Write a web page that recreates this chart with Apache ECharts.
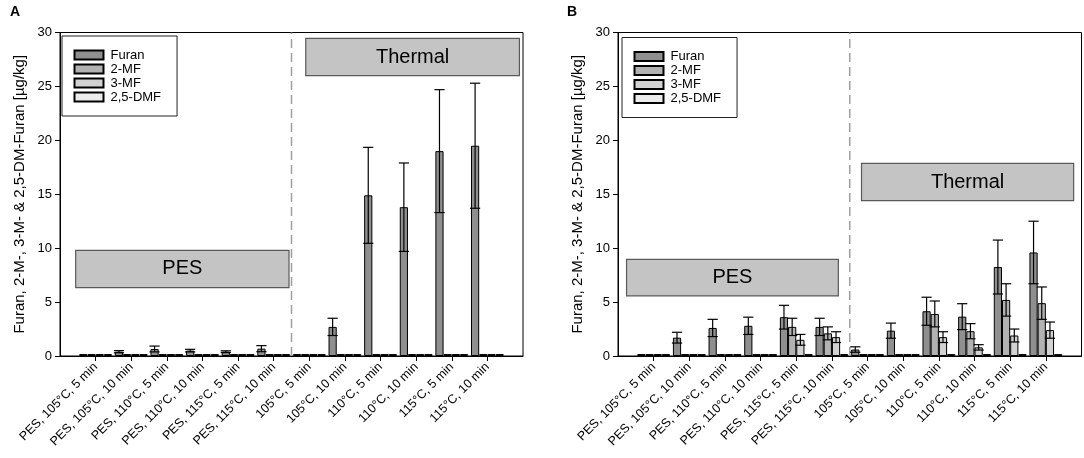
<!DOCTYPE html>
<html>

<head>
  <meta charset="utf-8" />
  <title>Furan</title>
  <script src="https://cdn.jsdelivr.net/npm/echarts@6/dist/echarts.min.js"></script>
  <style>
    html, body {
      margin: 0;
      padding: 0;
      background: #fff;
    }

    #main {
      width: 1084px;
      height: 458px;
    }
  </style>
</head>

<body>
  <div id="main"></div>

  <script>
    // categories (same in both panels)
    var categories = ['PES, 105°C, 5 min', 'PES, 105°C, 10 min', 'PES, 110°C, 5 min', 'PES, 110°C, 10 min',
      'PES, 115°C, 5 min', 'PES, 115°C, 10 min', '105°C, 5 min', '105°C, 10 min', '110°C, 5 min',
      '110°C, 10 min', '115°C, 5 min', '115°C, 10 min'];
    var compounds = ['Furan', '2-MF', '3-MF', '2,5-DMF'];
    var yTicks = [0, 5, 10, 15, 20, 25, 30];

    // panel A values and errors
    var furanA = [0.18, 0.4, 0.65, 0.5, 0.4, 0.68, 0.18, 2.7, 14.9, 13.8, 19.0, 19.5];
    var furanAErr = [0, 0.1, 0.27, 0.12, 0.08, 0.28, 0, 0.8, 4.45, 4.1, 5.7, 5.8];
    var mf2A = [0.18, 0.18, 0.18, 0.18, 0.18, 0.18, 0.18, 0.18, 0.18, 0.18, 0.18, 0.18];
    var mf2AErr = [0, 0, 0, 0, 0, 0, 0, 0, 0, 0, 0, 0];
    var mf3A = [0.18, 0.18, 0.18, 0.18, 0.18, 0.18, 0.18, 0.18, 0.18, 0.18, 0.18, 0.18];
    var mf3AErr = [0, 0, 0, 0, 0, 0, 0, 0, 0, 0, 0, 0];
    var dmfA = [0.18, 0.18, 0.18, 0.18, 0.18, 0.18, 0.18, 0.18, 0.18, 0.18, 0.18, 0.18];
    var dmfAErr = [0, 0, 0, 0, 0, 0, 0, 0, 0, 0, 0, 0];

    // panel B values and errors
    var furanB = [0.18, 1.7, 2.6, 2.8, 3.6, 2.7, 0.6, 2.35, 4.15, 3.65, 8.25, 9.6];
    var furanBErr = [0, 0.5, 0.8, 0.8, 1.1, 0.8, 0.25, 0.7, 1.3, 1.2, 2.5, 2.9];
    var mf2B = [0.18, 0.18, 0.18, 0.18, 2.7, 2.1, 0.18, 0.18, 3.9, 2.3, 5.2, 4.9];
    var mf2BErr = [0, 0, 0, 0, 0.8, 0.6, 0, 0, 1.2, 0.7, 1.5, 1.5];
    var mf3B = [0.18, 0.18, 0.18, 0.18, 1.5, 1.75, 0.18, 0.18, 1.75, 0.8, 1.9, 2.4];
    var mf3BErr = [0, 0, 0, 0, 0.5, 0.5, 0, 0, 0.5, 0.25, 0.6, 0.75];
    var dmfB = [0.18, 0.18, 0.18, 0.18, 0.18, 0.18, 0.18, 0.18, 0.18, 0.18, 0.18, 0.18];
    var dmfBErr = [0, 0, 0, 0, 0, 0, 0, 0, 0, 0, 0, 0];

    // annotation boxes (x in padded category units, y in data units)
    var boxesA = [
      { text: 'PES', x0: 0.44, x1: 6.43, y0: 6.35, y1: 9.8 },
      { text: 'Thermal', x0: 6.9, x1: 12.9, y0: 26.0, y1: 29.45 }
    ];
    var boxesB = [
      { text: 'PES', x0: 0.24, x1: 6.18, y0: 5.57, y1: 8.96 },
      { text: 'Thermal', x0: 6.83, x1: 12.78, y0: 14.4, y1: 17.87 }
    ];
    var divider = 6.5;

    var colors = ['#8f8f8f', '#b2b2b2', '#d2d2d2', '#ececec'];
    var FONT = 'Liberation Sans, Arial, sans-serif';
    var NAME = 'Furan, 2-M-, 3-M- & 2,5-DM-Furan [µg/kg]';

    // one blank slot on each side of the axis
    function pad(arr) {
      return ['-'].concat(arr, ['-']);
    }
    var cats = pad(categories).map(function (c) { return c === '-' ? '' : c; });

    var panels = [
      { vals: [furanA, mf2A, mf3A, dmfA], errs: [furanAErr, mf2AErr, mf3AErr, dmfAErr], boxes: boxesA },
      { vals: [furanB, mf2B, mf3B, dmfB], errs: [furanBErr, mf2BErr, mf3BErr, dmfBErr], boxes: boxesB }
    ];

    var myChart = echarts.init(document.getElementById('main'));

    function errRender(params, api) {
      var x = api.value(0), v = api.value(1), e = api.value(2), k = api.value(3);
      var band = api.size([1, 0])[0];
      var bw = band * 0.92 / 4;
      var cx = api.coord([x, v])[0] + (k - 1.5) * bw;
      var top = api.coord([x, v + e])[1];
      var bot = api.coord([x, v - e])[1];
      var h = bw / 2 + 1;
      var st = { stroke: '#000', lineWidth: 1.2 };
      return {
        type: 'group',
        children: [
          { type: 'line', shape: { x1: cx, y1: top, x2: cx, y2: bot }, style: st },
          { type: 'line', shape: { x1: cx - h, y1: top, x2: cx + h, y2: top }, style: st },
          { type: 'line', shape: { x1: cx - h, y1: bot, x2: cx + h, y2: bot }, style: st }
        ]
      };
    }

    var grids = [
      { left: 60, right: 561, top: 32.5, bottom: 102 },
      { left: 618, right: 2.5, top: 32.5, bottom: 102 }
    ];

    var xAxes = [], yAxes = [], series = [], legends = [];
    panels.forEach(function (p, g) {
      grids[g].show = true;
      grids[g].borderColor = '#000';
      grids[g].borderWidth = 1;
      xAxes.push({
        type: 'category',
        gridIndex: g,
        data: cats,
        boundaryGap: false,
        axisLine: { lineStyle: { color: '#000', width: 1 } },
        axisTick: {
          length: 5,
          lineStyle: { color: '#000' },
          interval: function (i) { return i > 0 && i < cats.length - 1; }
        },
        axisLabel: {
          interval: 0,
          rotate: 45,
          margin: 9,
          fontFamily: FONT,
          fontSize: 12.5,
          color: '#000'
        }
      });
      yAxes.push({
        type: 'value',
        gridIndex: g,
        min: yTicks[0],
        max: yTicks[yTicks.length - 1],
        interval: 5,
        name: NAME,
        nameLocation: 'middle',
        nameGap: 33,
        nameTextStyle: { fontFamily: FONT, fontSize: 15, color: '#000' },
        axisLine: { show: true, lineStyle: { color: '#000', width: 1 } },
        axisTick: { show: true, length: 5, lineStyle: { color: '#000' } },
        splitLine: { show: false },
        axisLabel: { margin: 8, fontFamily: FONT, fontSize: 13, color: '#000' }
      });
      var errData = [];
      compounds.forEach(function (name, k) {
        series.push({
          name: name,
          type: 'bar',
          xAxisIndex: g,
          yAxisIndex: g,
          data: pad(p.vals[k]),
          barGap: '0%',
          barCategoryGap: '8%',
          itemStyle: { color: colors[k], borderColor: '#000', borderWidth: 1 },
          emphasis: { disabled: true }
        });
        p.vals[k].forEach(function (v, i) {
          if (p.errs[k][i] > 0) errData.push([i + 1, v, p.errs[k][i], k]);
        });
      });
      series.push({
        type: 'custom',
        xAxisIndex: g,
        yAxisIndex: g,
        renderItem: errRender,
        data: errData,
        z: 5,
        silent: true
      });
      legends.push({
        data: compounds,
        orient: 'vertical',
        icon: 'rect',
        left: g === 0 ? 62 : 622,
        top: g === 0 ? 36 : 37.5,
        padding: [12, 16, 12, 11.5],
        itemWidth: 29,
        itemHeight: 9,
        itemGap: 0,
        borderColor: '#222',
        borderWidth: 1,
        selectedMode: false,
        textStyle: { fontFamily: FONT, fontSize: 13, color: '#000', lineHeight: 14, padding: [0, 0, 0, 2] }
      });
    });

    var option = {
      animation: false,
      title: [
        { text: 'A', left: 10, top: 5, padding: 0, textStyle: { fontFamily: FONT, fontSize: 14, fontWeight: 'bold', color: '#000' } },
        { text: 'B', left: 567, top: 5, padding: 0, textStyle: { fontFamily: FONT, fontSize: 14, fontWeight: 'bold', color: '#000' } }
      ],
      grid: grids,
      legend: legends,
      xAxis: xAxes,
      yAxis: yAxes,
      series: series
    };
    myChart.setOption(option);

    // boxes and dashed dividers, placed from data coordinates
    var graphics = [];
    panels.forEach(function (p, g) {
      var p0 = myChart.convertToPixel({ gridIndex: g }, [0, 0]);
      var p1 = myChart.convertToPixel({ gridIndex: g }, [1, 30]);
      var step = p1[0] - p0[0];
      var yPx = function (v) { return p0[1] + (p1[1] - p0[1]) * v / 30; };
      var xPx = function (c) { return p0[0] + step * c; };
      graphics.push({
        type: 'line',
        shape: { x1: xPx(divider), y1: yPx(0), x2: xPx(divider), y2: yPx(30) },
        style: { stroke: '#a0a0a0', lineWidth: 1.5, lineDash: [9, 5] },
        z: 1
      });
      p.boxes.forEach(function (b) {
        graphics.push({
          type: 'rect',
          shape: { x: xPx(b.x0), y: yPx(b.y1), width: xPx(b.x1) - xPx(b.x0), height: yPx(b.y0) - yPx(b.y1) },
          style: { fill: '#c4c4c4', stroke: '#5a5a5a', lineWidth: 1.2 },
          z: 2
        });
        graphics.push({
          type: 'text',
          x: (xPx(b.x0) + xPx(b.x1)) / 2,
          y: (yPx(b.y0) + yPx(b.y1)) / 2,
          style: {
            text: b.text, fill: '#000', font: '20px ' + FONT,
            textAlign: 'center', textVerticalAlign: 'middle'
          },
          z: 3
        });
      });
    });
    myChart.setOption({ graphic: graphics });
  </script>
</body>

</html>
